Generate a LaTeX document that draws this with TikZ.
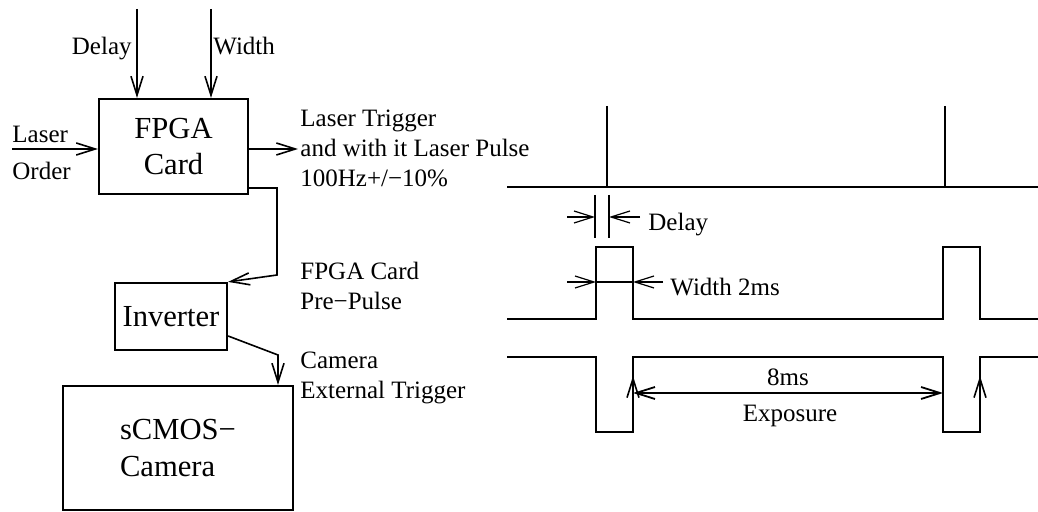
\documentclass[tikz,border=0pt]{standalone}
\usepackage{fontspec}
\setmainfont{Liberation Serif}
\usetikzlibrary{arrows.meta}
\begin{document}
\begin{tikzpicture}[x=0.5pt,y=-0.5pt,
  box/.style={draw, line width=1.1pt, inner sep=0pt, font=\fontsize{15.3}{18.4}\selectfont},
  lbl/.style={inner sep=0pt, font=\fontsize{12.5}{15}\selectfont, align=left},
  arr/.style={line width=0.8pt, -{Straight Barb[length=9.5pt,width=6pt]}},
  darr/.style={line width=0.9pt, {Straight Barb[length=9.5pt,width=6pt]}-{Straight Barb[length=9.5pt,width=6pt]}},
  wave/.style={line width=1.1pt},
  dim/.style={line width=0.6pt}]
\useasboundingbox (0,0) rectangle (1038,512);
% ---- block diagram ----
\node[box, minimum width=74.5pt, minimum height=47.5pt, align=center] (fpga) at (173.5,146.5) {FPGA\\Card};
\node[box, minimum width=56pt, minimum height=33.5pt] (inv) at (171,316.5) {Inverter};
\node[box, minimum width=115pt, minimum height=62pt, align=left] (cam) at (178,448) {sCMOS−\\Camera};

\coordinate (dtop) at (137,9);
\coordinate (wtop) at (211,9);
\coordinate (lo) at (12,149);
\coordinate (out) at (298,149);
\draw[arr] (dtop) -- (dtop |- fpga.north);
\draw[arr] (wtop) -- (wtop |- fpga.north);
\draw[arr] (lo) -- (lo -| fpga.west);
\draw[arr] (out -| fpga.east) -- (out);

\node[lbl, anchor=base east] (ldelay) at (132,55) {Delay};
\node[lbl, anchor=base west] (lwidth) at (213,55) {Width};
\node[lbl, anchor=base west] (llaser) at (12,143) {Laser};
\node[lbl, anchor=base west] (lorder) at (12,180) {Order};

\coordinate (c1) at (277,188);
\coordinate (c1b) at (277,275);
\draw[arr] (c1 -| fpga.east) -- (c1) -- (c1b) -- (inv.north east);
\coordinate (c2) at (227,336);
\coordinate (c3) at (278,355);
\draw[arr] (c2 -| inv.east) -- (c3) -- (c3 |- cam.north);

\node[lbl, anchor=base west] (ltrig) at (300,187) {Laser Trigger\\and with it Laser Pulse\\100Hz+/−10\%};
\node[lbl, anchor=base west] (lpre) at (300,310) {FPGA Card\\Pre−Pulse};
\node[lbl, anchor=base west] (lext) at (300,399) {Camera\\External Trigger};

% ---- timing diagram ----
\coordinate (l0) at (507,187);
\coordinate (l1) at (1038,187);
\draw[wave] (l0) -- (l1);
\coordinate (s1) at (607,106);
\coordinate (s2) at (945,106);
\draw[wave] (s1) -- (s1 |- l0);
\draw[wave] (s2) -- (s2 |- l0);

\coordinate (dm1) at (595,195);
\coordinate (dm2) at (609,195);
\draw[dim] (dm1) -- (595,238);
\draw[dim] (dm2) -- (609,238);
\coordinate (da1) at (567,217);
\coordinate (da2) at (640,217);
\draw[arr, dim] (da1) -- (da1 -| dm1);
\draw[arr, dim] (da2) -- (da2 -| dm2);
\node[lbl, anchor=base west] (tdelay) at (648,231) {Delay};

\coordinate (p0) at (507,319);
\draw[wave] (p0) -- (596,319) -- (596,247) -- (633,247) -- (633,319) -- (943,319) -- (943,247) -- (980,247) -- (980,319) -- (1038,319);
\coordinate (wa1) at (567,282);
\coordinate (wa2) at (663,282);
\coordinate (wl) at (596,282);
\coordinate (wr) at (633,282);
\draw[arr, dim] (wa1) -- (wl);
\draw[arr, dim] (wa2) -- (wr);
\draw[dim] (wl) -- (wr);
\node[lbl, anchor=base west] (twidth) at (670,296) {Width 2ms};

\coordinate (q0) at (507,357);
\draw[wave] (q0) -- (596,357) -- (596,432) -- (633,432) -- (633,357) -- (943,357) -- (943,432) -- (980,432) -- (980,357) -- (1038,357);
\coordinate (u1) at (633,432);
\coordinate (u2) at (980,432);
\draw[arr] (u1) -- (633,376);
\draw[arr] (u2) -- (980,376);
\coordinate (e1) at (633,393);
\coordinate (e2) at (943,393);
\draw[darr] (e1) -- (e2);
\node[lbl, anchor=base] (t8) at (788,386) {8ms};
\node[lbl, anchor=base] (texp) at (790,422) {Exposure};
\end{tikzpicture}
\end{document}
